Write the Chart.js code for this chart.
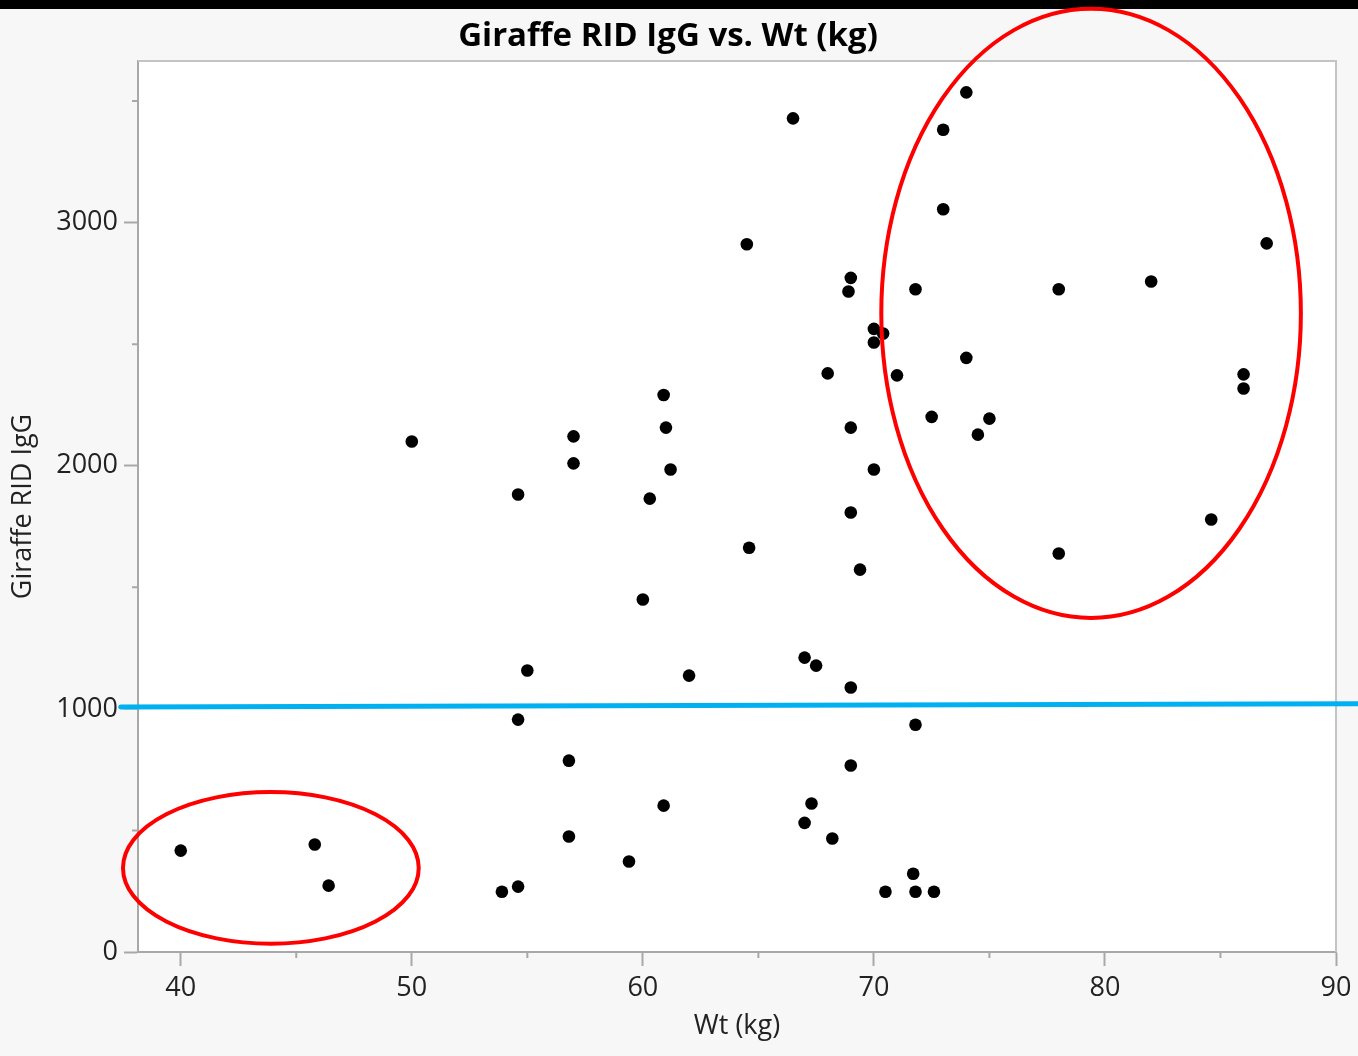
<!DOCTYPE html>
<html>
<head>
<meta charset="utf-8">
<title>Giraffe RID IgG vs. Wt (kg)</title>
<script src="https://cdn.jsdelivr.net/npm/chart.js@4.4.1/dist/chart.umd.min.js"></script>
<style>
  html, body { margin: 0; padding: 0; background: #f7f7f7; }
  #wrap { position: relative; width: 1358px; height: 1056px; overflow: hidden; }
  #topBar { position: absolute; left: 0; top: 0; width: 100%; height: 9px; background: #000; }
  #myChart { position: absolute; left: 0; top: 0; }
</style>
</head>
<body>
<div id="wrap">
  <div id="topBar"></div>
  <canvas id="myChart" width="1358" height="1056"></canvas>
</div>
<script>
// weight (kg) and RID IgG per animal
const weightKg = [40.0, 45.8, 46.4, 50.0, 53.9, 54.6, 54.6, 54.6, 55.0, 56.8, 56.8, 57.0, 57.0, 59.4, 60.0, 60.3, 60.9, 60.9, 61.0, 61.2, 62.0, 64.5, 64.6, 66.5, 67.0, 67.5, 67.3, 67.0, 68.0, 68.2, 69.0, 68.9, 69.0, 69.0, 69.4, 69.0, 69.0, 70.0, 70.4, 70.0, 70.0, 71.0, 70.5, 71.8, 71.8, 71.7, 71.8, 72.6, 72.5, 73.0, 73.0, 74.0, 74.0, 74.5, 75.0, 78.0, 78.0, 82.0, 84.6, 86.0, 86.0, 87.0];
const ridIgG = [417, 442, 273, 2100, 248, 269, 956, 1882, 1158, 787, 475, 2121, 2010, 372, 1450, 1865, 2291, 602, 2157, 1985, 1137, 2911, 1663, 3429, 1211, 1178, 611, 531, 2380, 467, 2773, 2717, 2157, 1808, 1573, 1088, 767, 2563, 2544, 2507, 1985, 2372, 248, 2726, 935, 322, 248, 248, 2201, 3382, 3055, 3536, 2444, 2128, 2194, 2726, 1639, 2758, 1779, 2376, 2318, 2915];

// hand-drawn cutoff line (slightly tilted) and circled groups
const cutoffX = [37.4, 91.0];
const cutoffY = [1008, 1021];
const circleCenterX = [43.9, 79.4];
const circleCenterY = [346, 2627];
const circleRadiusX = [6.4, 9.08];
const circleRadiusY = [312, 1253];

const xTicks = [40, 50, 60, 70, 80, 90];
const xMinorTicks = [45, 55, 65, 75, 85];
const yTicks = [0, 1000, 2000, 3000];
const yMinorTicks = [500, 1500, 2500, 3500];

const axisGray = "#a8a8a8";

const plotDecor = {
  id: "plotDecor",
  beforeDraw(chart) {
    const { ctx, chartArea } = chart;
    ctx.save();
    ctx.fillStyle = "#ffffff";
    ctx.fillRect(chartArea.left, chartArea.top, chartArea.right - chartArea.left, chartArea.bottom - chartArea.top);
    ctx.restore();
  },
  beforeDatasetsDraw(chart) {
    const { ctx, chartArea, scales } = chart;
    ctx.save();
    // top and right edges of the frame
    ctx.strokeStyle = "#c4c4c4";
    ctx.lineWidth = 2;
    ctx.beginPath();
    ctx.moveTo(chartArea.left, chartArea.top);
    ctx.lineTo(chartArea.right, chartArea.top);
    ctx.lineTo(chartArea.right, chartArea.bottom);
    ctx.stroke();
    // minor ticks
    ctx.strokeStyle = axisGray;
    ctx.beginPath();
    xMinorTicks.forEach((v) => {
      const px = scales.x.getPixelForValue(v);
      ctx.moveTo(px, chartArea.bottom);
      ctx.lineTo(px, chartArea.bottom + 6);
    });
    yMinorTicks.forEach((v) => {
      const py = scales.y.getPixelForValue(v);
      ctx.moveTo(chartArea.left, py);
      ctx.lineTo(chartArea.left - 6, py);
    });
    ctx.stroke();
    ctx.restore();
  },
  afterDatasetsDraw(chart) {
    const { ctx, scales } = chart;
    ctx.save();
    ctx.strokeStyle = "#ff0000";
    ctx.lineWidth = 4;
    circleCenterX.forEach((cx, i) => {
      const px = scales.x.getPixelForValue(cx);
      const py = scales.y.getPixelForValue(circleCenterY[i]);
      const rx = Math.abs(scales.x.getPixelForValue(cx + circleRadiusX[i]) - px);
      const ry = Math.abs(scales.y.getPixelForValue(circleCenterY[i] + circleRadiusY[i]) - py);
      ctx.beginPath();
      ctx.ellipse(px, py, rx, ry, 0, 0, Math.PI * 2);
      ctx.stroke();
    });
    ctx.restore();
  },
};

Chart.defaults.font.family = "'Open Sans', sans-serif";

const ctx = document.getElementById("myChart").getContext("2d");
const myChart = new Chart(ctx, {
  type: "scatter",
  data: {
    datasets: [
      {
        label: "Giraffe RID IgG",
        data: weightKg.map((w, i) => ({ x: w, y: ridIgG[i] })),
        backgroundColor: "#000000",
        borderWidth: 0,
        pointRadius: 6.3,
        pointHoverRadius: 6.3,
        order: 2,
      },
      {
        label: "cutoff",
        data: cutoffX.map((x, i) => ({ x: x, y: cutoffY[i] })),
        showLine: true,
        borderColor: "#00b0f0",
        borderWidth: 5,
        borderCapStyle: "round",
        pointRadius: 0,
        clip: false,
        order: 1,
      },
    ],
  },
  options: {
    responsive: false,
    animation: false,
    layout: { padding: { left: 0, right: 22, top: 0, bottom: 0 } },
    plugins: {
      legend: { display: false },
      tooltip: { enabled: false },
      title: {
        display: true,
        text: "Giraffe RID IgG vs. Wt (kg)",
        color: "#000000",
        font: { size: 33, weight: "bold" },
        padding: { top: 17, bottom: 4.4 },
      },
    },
    scales: {
      x: {
        type: "linear",
        min: 38.15,
        max: 90,
        afterBuildTicks: (scale) => {
          scale.ticks = xTicks.map((v) => ({ value: v }));
        },
        afterFit: (scale) => {
          scale.height = 104;
        },
        border: { display: true, color: axisGray, width: 2 },
        grid: { drawOnChartArea: false, drawTicks: true, tickLength: 14, tickColor: axisGray, tickWidth: 2 },
        ticks: { color: "#222222", font: { size: 27 }, padding: 6, maxRotation: 0, callback: (v) => String(v) },
        title: {
          display: true,
          text: "Wt (kg)",
          color: "#222222",
          font: { size: 27 },
          padding: { top: 0, bottom: 13 },
        },
      },
      y: {
        type: "linear",
        min: 0,
        max: 3665,
        afterBuildTicks: (scale) => {
          scale.ticks = yTicks.map((v) => ({ value: v }));
        },
        afterFit: (scale) => {
          scale.width = 138;
        },
        border: { display: true, color: axisGray, width: 2 },
        grid: { drawOnChartArea: false, drawTicks: true, tickLength: 14, tickColor: axisGray, tickWidth: 2 },
        ticks: { color: "#222222", font: { size: 27 }, padding: 6, callback: (v) => String(v) },
        title: {
          display: true,
          text: "Giraffe RID IgG",
          color: "#222222",
          font: { size: 27 },
          padding: { top: 7, bottom: 0 },
        },
      },
    },
  },
  plugins: [plotDecor],
});
</script>
</body>
</html>
